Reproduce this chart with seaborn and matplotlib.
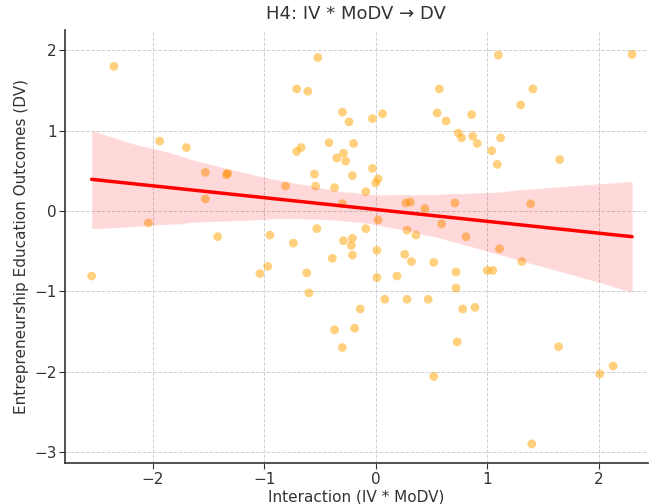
import numpy as np
import pandas as pd
import matplotlib
matplotlib.use("Agg")
import matplotlib.pyplot as plt
import seaborn as sns

interaction = [-2.55, -2.35, -2.04, -1.94, -1.70, -1.53, -1.53, -1.42, -1.33, -1.34,
               -1.04, -0.97, -0.95, -0.81, -0.74, -0.71, -0.71, -0.67, -0.62, -0.60,
               -0.61, -0.55, -0.54, -0.52, -0.53, -0.42, -0.39, -0.37, -0.37, -0.35,
               -0.30, -0.30, -0.29, -0.29, -0.27, -0.30, -0.24, -0.21, -0.21, -0.21,
               -0.20, -0.19, -0.22, -0.14, -0.09, -0.09, -0.03, -0.03, 0.00, 0.02,
               0.02, 0.01, 0.01, 0.06, 0.08, 0.19, 0.28, 0.27, 0.26, 0.28,
               0.32, 0.31, 0.36, 0.44, 0.47, 0.52, 0.52, 0.55, 0.57, 0.63,
               0.71, 0.72, 0.72, 0.73, 0.74, 0.77, 0.78, 0.81, 0.86, 0.89,
               0.91, 0.87, 1.00, 1.05, 1.04, 1.10, 1.11, 1.09, 1.12, 1.30,
               1.31, 1.41, 1.39, 1.40, 1.65, 1.64, 2.01, 2.13, 2.30, 0.59]
outcomes = [-0.81, 1.80, -0.15, 0.87, 0.79, 0.48, 0.15, -0.32, 0.47, 0.45,
            -0.78, -0.69, -0.30, 0.31, -0.40, 1.52, 0.74, 0.79, -0.77, -1.02,
            1.49, 0.46, 0.31, 1.91, -0.22, 0.85, -0.59, 0.29, -1.48, 0.66,
            1.23, -1.70, 0.72, -0.37, 0.62, 0.09, 1.11, -0.34, -0.55, 0.44,
            0.84, -1.46, -0.43, -1.22, -0.22, 0.24, 0.53, 1.15, 0.35, 0.40,
            -0.11, -0.49, -0.83, 1.21, -1.10, -0.81, -0.24, 0.10, -0.54, -1.10,
            -0.63, 0.11, -0.30, 0.03, -1.10, -0.64, -2.06, 1.22, 1.52, 1.12,
            0.10, -0.76, -0.96, -1.63, 0.97, 0.91, -1.22, -0.32, 1.20, -1.20,
            0.84, 0.93, -0.74, -0.74, 0.75, 1.94, -0.47, 0.58, 0.91, 1.32,
            -0.63, 1.52, 0.09, -2.90, 0.64, -1.69, -2.03, -1.93, 1.95, -0.16]

df = pd.DataFrame({"x": interaction, "y": outcomes})

sns.set_style("whitegrid")
plt.rcParams['font.family'] = ['DejaVu Sans']

fig = plt.figure(figsize=(6.49, 5.04), dpi=100)
ax = fig.add_axes([0.100, 0.081, 0.898, 0.859])

sns.regplot(data=df, x="x", y="y", ax=ax, seed=3,
            scatter_kws={"color": "orange", "alpha": 0.5, "s": 40, "edgecolor": "none"},
            line_kws={"color": "red", "lw": 2.5})

ax.set_xlim(-2.79, 2.44)
ax.set_ylim(-3.14, 2.25)
ax.set_xticks([-2, -1, 0, 1, 2])
ax.set_yticks([-3, -2, -1, 0, 1, 2])
ax.grid(True, linestyle="--", color="#d0d0d0", linewidth=0.7)
ax.set_title("H4: IV * MoDV → DV", fontsize=13, color="#333333", pad=8)
ax.set_xlabel("Interaction (IV * MoDV)", fontsize=11, color="#333333", labelpad=2)
ax.set_ylabel("Entrepreneurship Education Outcomes (DV)", fontsize=11, color="#333333", labelpad=4)
for s in ["top", "right"]:
    ax.spines[s].set_visible(False)
for s in ["left", "bottom"]:
    ax.spines[s].set_color("#333333")
    ax.spines[s].set_linewidth(1.2)
ax.tick_params(axis="both", which="both", length=4, pad=2, color="#333333",
               labelsize=11, labelcolor="#333333", left=True, bottom=True)

fig.savefig("out.png", dpi=100)
